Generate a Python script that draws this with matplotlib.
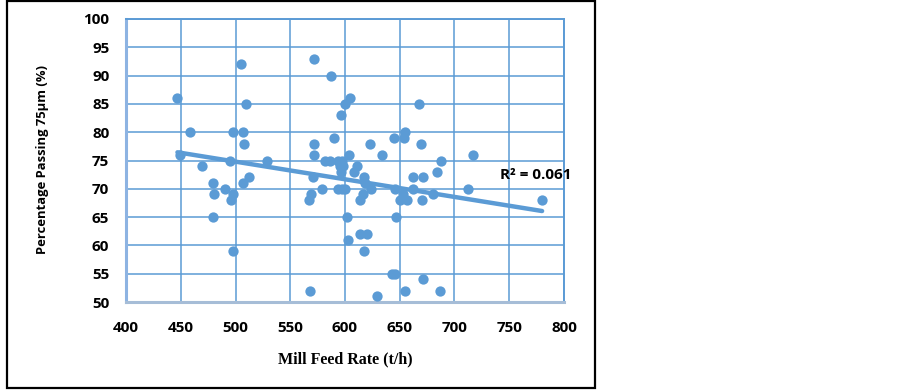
import numpy as np
import matplotlib
matplotlib.use("Agg")
import matplotlib.pyplot as plt
from matplotlib.patches import Rectangle

feed_rate = [447, 449, 458, 469, 479, 480, 479, 490, 495, 498, 496, 498, 498, 505, 510, 507, 508, 507, 512, 529,
             567, 569, 568, 572, 572, 572, 571, 579, 587, 582, 586, 590, 596, 600, 605,
             594, 597, 595, 598, 596, 604, 594, 597, 600,
             601.5, 602.5, 608, 611, 617, 614, 616, 618, 614, 620, 617, 623, 624, 634, 629.5,
             645, 646, 647, 643, 646, 655, 654, 650, 653, 657, 655, 662, 662, 668, 669, 671, 670, 671,
             680, 684, 688, 687, 717, 712, 780]
passing = [86, 76, 80, 74, 71, 69, 65, 70, 75, 80, 68, 69, 59, 92, 85, 80, 78, 71, 72, 75,
           68, 69, 52, 93, 78, 76, 72, 70, 90, 75, 75, 79, 83, 85, 86,
           75, 75, 74, 74, 73, 76, 70, 70, 70,
           65, 61, 73, 74, 72, 68, 69, 71, 62, 62, 59, 78, 70, 76, 51,
           79, 70, 65, 55, 55, 80, 79, 68, 69, 68, 52, 72, 70, 85, 78, 72, 68, 54,
           69, 73, 75, 52, 76, 70, 68]
r2_label = "R² = 0.061"
x_ticks = [400, 450, 500, 550, 600, 650, 700, 750, 800]
y_ticks = [50, 55, 60, 65, 70, 75, 80, 85, 90, 95, 100]

blue = "#5B9BD5"
fig = plt.figure(figsize=(9.03, 3.92), dpi=100)
W, H = 903, 392
ax = fig.add_axes([126 / W, 1 - 302 / H, (564 - 126) / W, (302 - 19) / H])

ax.scatter(feed_rate, passing, s=55, color=blue, zorder=3, linewidths=0)
x = np.array(feed_rate, float)
y = np.array(passing, float)
m, b = np.polyfit(x, y, 1)
xl = np.array([x.min(), x.max()])
ax.plot(xl, m * xl + b, color=blue, lw=3.2, solid_capstyle="round", zorder=4)

ax.set_xlim(400, 800)
ax.set_ylim(50, 100)
ax.set_xticks(x_ticks)
ax.set_yticks(y_ticks)
ax.grid(True, color=blue, lw=1.1, zorder=0)
ax.set_axisbelow(True)
for s in ax.spines.values():
    s.set_color(blue)
    s.set_linewidth(1.4)
ax.spines["left"].set_color("#8DB3E2")
ax.spines["bottom"].set_color("#A6BDD7")
ax.spines["left"].set_linewidth(2.2)
ax.spines["bottom"].set_linewidth(2.2)
ax.tick_params(length=0, labelsize=11)
ax.tick_params(axis="x", pad=14)
ax.tick_params(axis="y", pad=12)
for lab in ax.get_xticklabels() + ax.get_yticklabels():
    lab.set_fontweight("bold")
    lab.set_fontfamily("Open Sans")

ax.text(741.5, 72.4, r2_label, fontsize=11, fontweight="bold", family="Open Sans",
        va="center", ha="left", zorder=5)

fig.text(43 / W, 1 - 160 / H, "Percentage Passing 75μm (%)", rotation=90, fontsize=9.4,
         fontweight="bold", family="Open Sans", ha="center", va="center")
fig.text(345 / W, 1 - 359 / H, "Mill Feed Rate (t/h)", fontsize=11.5,
         fontweight="bold", family="Liberation Serif", ha="center", va="center")

fig.patches.append(Rectangle((7 / W, 1 - 388 / H), (595 - 7) / W, (388 - 1) / H,
                             transform=fig.transFigure, fill=False, edgecolor="black",
                             lw=1.6, zorder=10))

fig.savefig("out.png", dpi=100)
